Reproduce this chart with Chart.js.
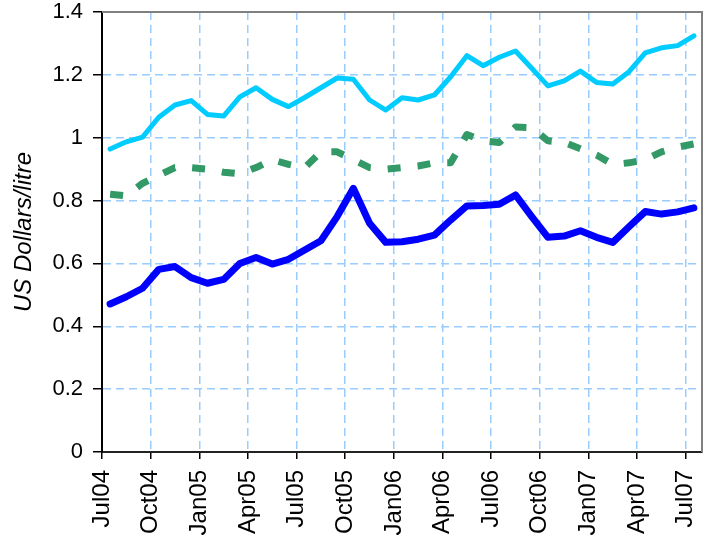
<!DOCTYPE html>
<html>
<head>
<meta charset="utf-8">
<script src="https://cdn.jsdelivr.net/npm/chart.js@4.4.0/dist/chart.umd.min.js"></script>
<style>
  html, body { margin: 0; padding: 0; background: #fff; }
  #wrap { width: 714px; height: 535px; }
</style>
</head>
<body>
<div id="wrap"><canvas id="priceChart" width="714" height="535"></canvas></div>
<script>
// months Jul04 .. Jul07
const months = ["Jul04","Aug04","Sep04","Oct04","Nov04","Dec04","Jan05","Feb05","Mar05","Apr05","May05","Jun05",
    "Jul05","Aug05","Sep05","Oct05","Nov05","Dec05","Jan06","Feb06","Mar06","Apr06","May06","Jun06",
    "Jul06","Aug06","Sep06","Oct06","Nov06","Dec06","Jan07","Feb07","Mar07","Apr07","May07","Jun07","Jul07"];
const tickLabels = ["Jul04","Oct04","Jan05","Apr05","Jul05","Oct05","Jan06","Apr06","Jul06","Oct06","Jan07","Apr07","Jul07"];
const yTicks = [0, 0.2, 0.4, 0.6, 0.8, 1, 1.2, 1.4];

const upperSeries = [0.964, 0.987, 1.002, 1.065, 1.104, 1.118, 1.074, 1.069, 1.130, 1.159, 1.122, 1.099,
    1.128, 1.159, 1.190, 1.186, 1.120, 1.088, 1.127, 1.120, 1.136, 1.194, 1.261, 1.229,
    1.256, 1.276, 1.221, 1.165, 1.181, 1.212, 1.176, 1.171, 1.210, 1.270, 1.286, 1.293, 1.324];
const middleSeries = [0.820, 0.815, 0.855, 0.880, 0.905, 0.905, 0.900, 0.890, 0.885, 0.905, 0.930, 0.915,
    0.905, 0.955, 0.955, 0.930, 0.905, 0.900, 0.905, 0.910, 0.920, 0.920, 1.010, 0.990,
    0.985, 1.034, 1.032, 0.990, 0.985, 0.965, 0.945, 0.915, 0.920, 0.930, 0.955, 0.970, 0.980];
const lowerSeries = [0.471, 0.494, 0.521, 0.581, 0.590, 0.555, 0.537, 0.549, 0.600, 0.619, 0.598, 0.613,
    0.643, 0.672, 0.749, 0.839, 0.728, 0.667, 0.669, 0.677, 0.690, 0.738, 0.783, 0.784,
    0.788, 0.818, 0.749, 0.683, 0.687, 0.704, 0.683, 0.667, 0.717, 0.765, 0.757, 0.764, 0.777];

// each monthly value sits in the middle of its month
function toPoints(values) {
    return values.map((v, i) => ({ x: i + 0.5, y: v }));
}

const fontFamily = "'Liberation Sans', Arial, sans-serif";

// drop the label overflow padding, the layout padding below sets the plot box
function noOverflow(s) {
    s.paddingTop = 0;
    s.paddingBottom = 0;
    s.paddingLeft = 0;
    s.paddingRight = 0;
}

// grey frame on top and right of the plot area
const plotFrame = {
    id: "plotFrame",
    afterDraw(chart) {
        const { ctx, chartArea: a } = chart;
        ctx.save();
        ctx.strokeStyle = "#808080";
        ctx.lineWidth = 2;
        ctx.beginPath();
        ctx.moveTo(a.left, a.top);
        ctx.lineTo(a.right, a.top);
        ctx.lineTo(a.right, a.bottom);
        ctx.stroke();
        ctx.restore();
    }
};

new Chart(document.getElementById("priceChart"), {
    type: "line",
    data: {
        datasets: [
            {
                data: toPoints(upperSeries),
                borderColor: "#00CCFF",
                borderWidth: 5
            },
            {
                data: toPoints(middleSeries),
                borderColor: "#339966",
                borderWidth: 7,
                borderDash: [13, 17],
                borderCapStyle: "butt"
            },
            {
                data: toPoints(lowerSeries),
                borderColor: "#0000FF",
                borderWidth: 7
            }
        ]
    },
    options: {
        responsive: false,
        animation: false,
        layout: { padding: { top: 12, right: 12, bottom: 0, left: 0 } },
        elements: {
            point: { radius: 0 },
            line: { tension: 0, borderJoinStyle: "round", borderCapStyle: "round" }
        },
        plugins: {
            legend: { display: false },
            tooltip: { enabled: false }
        },
        scales: {
            x: {
                type: "linear",
                min: 0,
                max: months.length,
                afterBuildTicks: s => { s.ticks = tickLabels.map((t, i) => ({ value: i * 3 })); },
                afterFit: s => { s.height = 83; noOverflow(s); },
                ticks: {
                    autoSkip: false,
                    minRotation: 90,
                    maxRotation: 90,
                    padding: 11,
                    color: "#000",
                    font: { family: fontFamily, size: 24 },
                    callback: (v, i) => tickLabels[i]
                },
                grid: {
                    color: "#99CCFF",
                    lineWidth: 1.5,
                    tickColor: "#000",
                    tickLength: 7,
                    tickWidth: 1.5
                },
                border: { color: "#222", width: 2, dash: [8, 5] }
            },
            y: {
                min: 0,
                max: 1.4,
                afterBuildTicks: s => { s.ticks = yTicks.map(v => ({ value: v })); },
                afterFit: s => { s.width = 102; noOverflow(s); },
                ticks: {
                    padding: 10,
                    color: "#000",
                    font: { family: fontFamily, size: 22 },
                    callback: v => String(+v.toFixed(1))
                },
                grid: {
                    color: "#99CCFF",
                    lineWidth: 1.5,
                    tickColor: "#000",
                    tickLength: 9,
                    tickWidth: 1.5
                },
                border: { color: "#000", width: 2, dash: [8, 5] },
                title: {
                    display: true,
                    text: "US Dollars/litre",
                    color: "#000",
                    padding: { top: 10, bottom: 0 },
                    font: { family: fontFamily, size: 24, style: "italic", weight: "normal" }
                }
            }
        }
    },
    plugins: [plotFrame]
});
</script>
</body>
</html>
